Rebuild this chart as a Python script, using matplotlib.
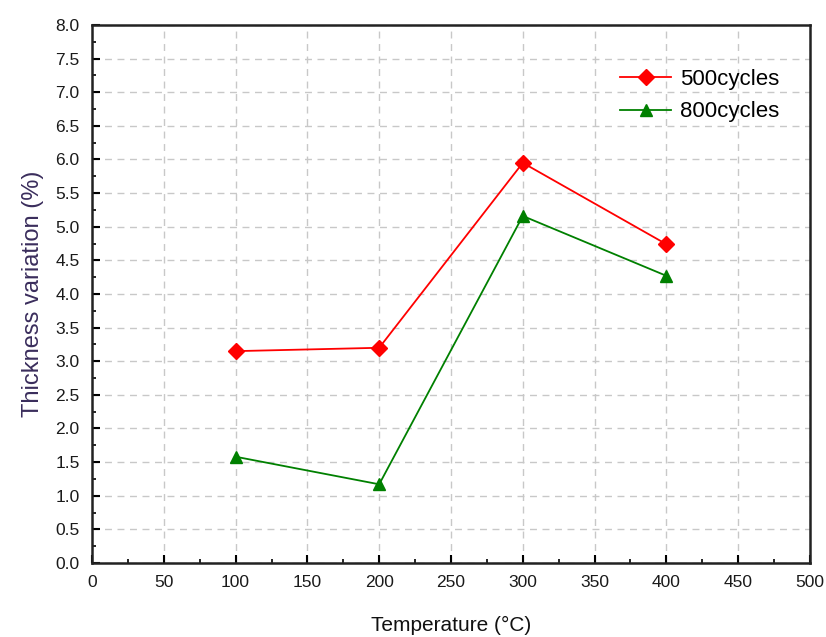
import matplotlib
matplotlib.use('Agg')
import matplotlib.pyplot as plt
from matplotlib.ticker import MultipleLocator, FormatStrFormatter

plt.rcParams['font.family'] = ['Liberation Sans', 'DejaVu Sans']

temps = [100, 200, 300, 400]
cyc500 = [3.15, 3.20, 5.95, 4.74]
cyc800 = [1.58, 1.17, 5.16, 4.27]

C_500 = '#FF0000'
C_800 = '#008000'

fig = plt.figure(figsize=(8.26, 6.37), dpi=100)
ax = fig.add_axes([0.1114, 0.1162, 0.8692, 0.8446])

ax.plot(temps, cyc500, '-D', color=C_500, lw=1.3, markersize=8, label='500cycles')
ax.plot(temps, cyc800, '-^', color=C_800, lw=1.3, markersize=9, label='800cycles')

ax.set_xlim(0, 500)
ax.set_ylim(0, 8)
ax.xaxis.set_major_locator(MultipleLocator(50))
ax.xaxis.set_minor_locator(MultipleLocator(25))
ax.yaxis.set_major_locator(MultipleLocator(0.5))
ax.yaxis.set_minor_locator(MultipleLocator(0.25))
ax.yaxis.set_major_formatter(FormatStrFormatter('%.1f'))

ax.tick_params(which='major', direction='in', length=6, width=1.5, labelsize=12.5, pad=9,
               labelcolor='#1a1a1a')
ax.tick_params(which='minor', direction='in', length=3, width=1.2)

for s in ax.spines.values():
    s.set_linewidth(1.8)
    s.set_color('#222222')

ax.grid(which='major', linestyle=(0, (5, 4)), color='#c8c8c8', lw=1)
ax.set_axisbelow(True)

ax.set_xlabel('Temperature (°C)', fontsize=15, color='#111111', labelpad=18)
ax.set_ylabel('Thickness variation (%)', fontsize=17, color='#3a2d5c', labelpad=8)

ax.legend(loc='upper right', bbox_to_anchor=(0.985, 0.955), frameon=False,
          fontsize=16, handlelength=2.3, handletextpad=0.4, labelspacing=0.5)

fig.savefig('out.png', dpi=100)
